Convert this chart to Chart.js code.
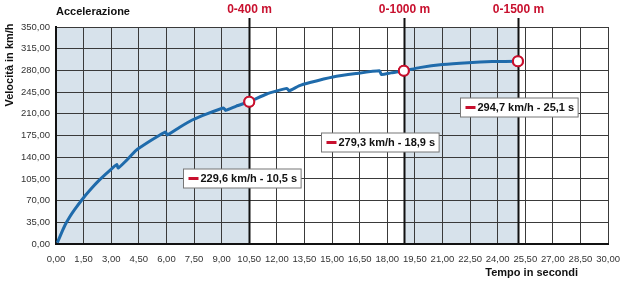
<!DOCTYPE html>
<html>
<head>
<meta charset="utf-8">
<script src="https://cdn.jsdelivr.net/npm/chart.js@4.4.1/dist/chart.umd.min.js"></script>
<style>
  html, body { margin: 0; padding: 0; background: #fff; }
  #wrap { width: 630px; height: 287px; }
</style>
</head>
<body>
<div id="wrap"><canvas id="accChart" width="630" height="287"></canvas></div>
<script>
// Speed curve (time in s, speed in km/h); small dips are the gear shifts
const timeSec = [0.07, 0.3, 0.5, 0.75, 1.0, 1.4, 1.85, 2.35, 2.9, 3.3, 3.38, 3.8, 4.35, 5.0, 5.6,
                 5.95, 6.05, 6.7, 7.4, 8.2, 9.1, 9.22, 9.8, 10.5, 11.45, 12.55, 12.67, 13.2, 13.8,
                 15.05, 16.3, 17.58, 17.68, 18.2, 18.9, 19.75, 21.0, 22.4, 23.7, 25.1];
const speedKmh = [2, 18, 31, 44, 55, 71, 87, 103, 118, 128, 122.5, 134, 151, 164, 175,
                  180.5, 176, 188, 200, 210, 219.5, 215.5, 222.5, 229.6, 242, 251, 247, 255, 260.5,
                  269.5, 275, 279.5, 273.5, 276, 279.3, 284.5, 289.5, 292.5, 294.2, 294.7];

// Distance milestones
const milestoneNames = ['0-400 m', '0-1000 m', '0-1500 m'];
const milestoneTime = [10.5, 18.9, 25.1];
const milestoneSpeed = [229.6, 279.3, 294.7];
const milestoneText = ['229,6 km/h - 10,5 s', '279,3 km/h - 18,9 s', '294,7 km/h - 25,1 s'];
// where each value box sits (left edge in s, middle in km/h)
const boxTime = [6.9, 14.4, 21.95];
const boxSpeed = [107, 164.5, 221];

// shaded bands (s)
const bandStart = [0, 18.9];
const bandEnd = [10.5, 25.1];

const xTicks = [];
for (let i = 0; i <= 20; i++) xTicks.push(i * 1.5);
const yTicks = [];
for (let i = 0; i <= 10; i++) yTicks.push(i * 35);

const fmt = v => v.toFixed(2).replace('.', ',');
const FONT = '"Liberation Sans", Arial, sans-serif';

const decorPlugin = {
    id: 'decor',
    beforeDraw(chart) {
        const { ctx, chartArea: a, scales: { x } } = chart;
        ctx.save();
        ctx.fillStyle = '#d7e2eb';
        bandStart.forEach((s, i) => {
            const x0 = x.getPixelForValue(s);
            const x1 = x.getPixelForValue(bandEnd[i]);
            ctx.fillRect(x0, a.top, x1 - x0, a.bottom - a.top);
        });
        ctx.restore();
    },
    afterDatasetsDraw(chart) {
        const { ctx, chartArea: a, scales: { x, y } } = chart;
        ctx.save();
        // milestone lines + red titles
        milestoneTime.forEach((t, i) => {
            const px = Math.round(x.getPixelForValue(t)) + 0.5;
            ctx.strokeStyle = '#111';
            ctx.lineWidth = 2;
            ctx.beginPath();
            ctx.moveTo(px, a.bottom);
            ctx.lineTo(px, a.top - 9);
            ctx.stroke();
            ctx.fillStyle = '#c8102e';
            ctx.font = 'bold 12px ' + FONT;
            ctx.textAlign = 'center';
            ctx.textBaseline = 'middle';
            ctx.fillText(milestoneNames[i], px, 10);
        });
        // redraw markers above the milestone lines
        chart.getDatasetMeta(1).data.forEach(p => p.draw(ctx, a));
        // value boxes
        ctx.font = 'bold 11px ' + FONT;
        milestoneText.forEach((txt, i) => {
            const bx = Math.round(x.getPixelForValue(boxTime[i])) + 0.5;
            const by = Math.round(y.getPixelForValue(boxSpeed[i])) + 0.5;
            const w = ctx.measureText(txt).width + 21;
            const h = 19;
            ctx.fillStyle = '#fff';
            ctx.fillRect(bx, by - h / 2, w, h);
            ctx.strokeStyle = '#777';
            ctx.lineWidth = 1;
            ctx.strokeRect(bx, by - h / 2, w, h);
            ctx.fillStyle = '#c8102e';
            ctx.fillRect(bx + 5, by - 1.5, 10, 3);
            ctx.fillStyle = '#111';
            ctx.textAlign = 'left';
            ctx.textBaseline = 'middle';
            ctx.fillText(txt, bx + 17, by + 0.5);
        });
        ctx.restore();
    },
    afterDraw(chart) {
        const { ctx, chartArea: a } = chart;
        ctx.save();
        ctx.fillStyle = '#111';
        ctx.font = 'bold 11px ' + FONT;
        ctx.textBaseline = 'middle';
        ctx.textAlign = 'left';
        ctx.fillText('Accelerazione', a.left, 12);
        ctx.textAlign = 'right';
        ctx.fillText('Tempo in secondi', 578, 273);
        ctx.translate(10, 65);
        ctx.rotate(-Math.PI / 2);
        ctx.textAlign = 'center';
        ctx.fillText('Velocità in km/h', 0, 0);
        ctx.restore();
    }
};

new Chart(document.getElementById('accChart'), {
    type: 'line',
    data: {
        datasets: [
            {
                label: 'Velocità',
                data: timeSec.map((t, i) => ({ x: t, y: speedKmh[i] })),
                borderColor: '#1f6bab',
                borderWidth: 3,
                borderJoinStyle: 'round',
                pointRadius: 0,
                tension: 0.15,
                order: 2
            },
            {
                label: 'Traguardi',
                data: milestoneTime.map((t, i) => ({ x: t, y: milestoneSpeed[i] })),
                showLine: false,
                pointRadius: 5,
                pointBorderWidth: 2,
                pointBackgroundColor: '#fff',
                pointBorderColor: '#c8102e',
                order: 1
            }
        ]
    },
    options: {
        responsive: false,
        animation: false,
        layout: { padding: { top: 27, right: 18, left: 0, bottom: 0 } },
        scales: {
            x: {
                type: 'linear',
                min: 0,
                max: 30,
                afterBuildTicks: s => { s.ticks = xTicks.map(v => ({ value: v })); },
                afterFit: s => { s.height = 43; },
                grid: { color: '#3a3a3a', lineWidth: 1, drawTicks: false },
                border: { color: '#111', width: 2 },
                ticks: {
                    padding: 10,
                    color: '#333',
                    font: { family: FONT, size: 9.5 },
                    maxRotation: 0,
                    autoSkip: false,
                    callback: v => fmt(v)
                }
            },
            y: {
                min: 0,
                max: 350,
                afterBuildTicks: s => { s.ticks = yTicks.map(v => ({ value: v })); },
                afterFit: s => { s.width = 56; },
                grid: { color: '#3a3a3a', lineWidth: 1, drawTicks: false },
                border: { color: '#111', width: 2 },
                ticks: {
                    padding: 6,
                    color: '#333',
                    font: { family: FONT, size: 9.5 },
                    callback: v => fmt(v)
                }
            }
        },
        plugins: {
            legend: { display: false },
            tooltip: { enabled: false }
        }
    },
    plugins: [decorPlugin]
});
</script>
</body>
</html>
